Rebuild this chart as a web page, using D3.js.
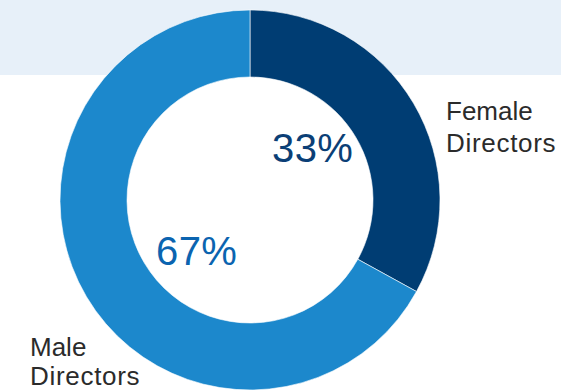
<!DOCTYPE html>
<html>
<head>
<meta charset="utf-8">
<script src="https://cdn.jsdelivr.net/npm/d3@7/dist/d3.min.js"></script>
<style>
  html, body { margin: 0; padding: 0; background: #fff; }
  svg { display: block; }
</style>
</head>
<body>
<svg id="chart" width="561" height="391"></svg>
<script>
// Board composition by gender (percent)
const categories = ["Female Directors", "Male Directors"];
const values = [33, 67];
const valueLabels = ["33%", "67%"];
const nameLines = [["Female", "Directors"], ["Male", "Directors"]];

const W = 561, H = 391;
const cx = 250, cy = 200;
const outerR = 190, innerR = 123;

const svg = d3.select("#chart");

// light header band behind the ring
svg.append("rect")
  .attr("x", 0).attr("y", 0)
  .attr("width", W).attr("height", 75)
  .attr("fill", "#e7f0f9");

const color = d3.scaleOrdinal()
  .domain(categories)
  .range(["#003d73", "#1c88cc"]);

const pie = d3.pie().sort(null).value(d => d.value);
const arc = d3.arc().innerRadius(innerR).outerRadius(outerR);

const data = categories.map((c, i) => ({ name: c, value: values[i] }));
const arcs = pie(data);

const g = svg.append("g").attr("transform", `translate(${cx},${cy})`);

g.selectAll("path")
  .data(arcs)
  .join("path")
  .attr("d", arc)
  .attr("fill", d => color(d.data.name))
  .attr("stroke", "#ffffff")
  .attr("stroke-width", 0.6);

// percentage labels inside the hole
const pctStyle = [
  { x: 272, y: 162, fill: "#0b3f76" },
  { x: 156, y: 265, fill: "#0b64b0" }
];
svg.selectAll("text.pct")
  .data(arcs)
  .join("text")
  .attr("class", "pct")
  .attr("x", (d, i) => pctStyle[i].x)
  .attr("y", (d, i) => pctStyle[i].y)
  .attr("fill", (d, i) => pctStyle[i].fill)
  .attr("font-family", "'Liberation Sans', Arial, Helvetica, sans-serif")
  .attr("font-size", 40)
  .attr("letter-spacing", 0.4)
  .text((d, i) => valueLabels[i]);

// category names beside the ring
const namePos = [
  { x: 446, y: 119.5, gap: 32 },
  { x: 30, y: 355.5, gap: 29.5 }
];
const names = svg.selectAll("text.name")
  .data(arcs)
  .join("text")
  .attr("class", "name")
  .attr("x", (d, i) => namePos[i].x)
  .attr("y", (d, i) => namePos[i].y)
  .attr("fill", "#2b2b2b")
  .attr("font-family", "'Liberation Sans', Arial, Helvetica, sans-serif")
  .attr("font-size", 26);

names.selectAll("tspan")
  .data((d, i) => nameLines[i].map(t => ({ t, i })))
  .join("tspan")
  .attr("x", d => namePos[d.i].x)
  .attr("dy", (d, j) => j === 0 ? 0 : namePos[d.i].gap)
  .attr("letter-spacing", (d, j) => j === 0 ? 0 : 0.7)
  .text(d => d.t);
</script>
</body>
</html>
